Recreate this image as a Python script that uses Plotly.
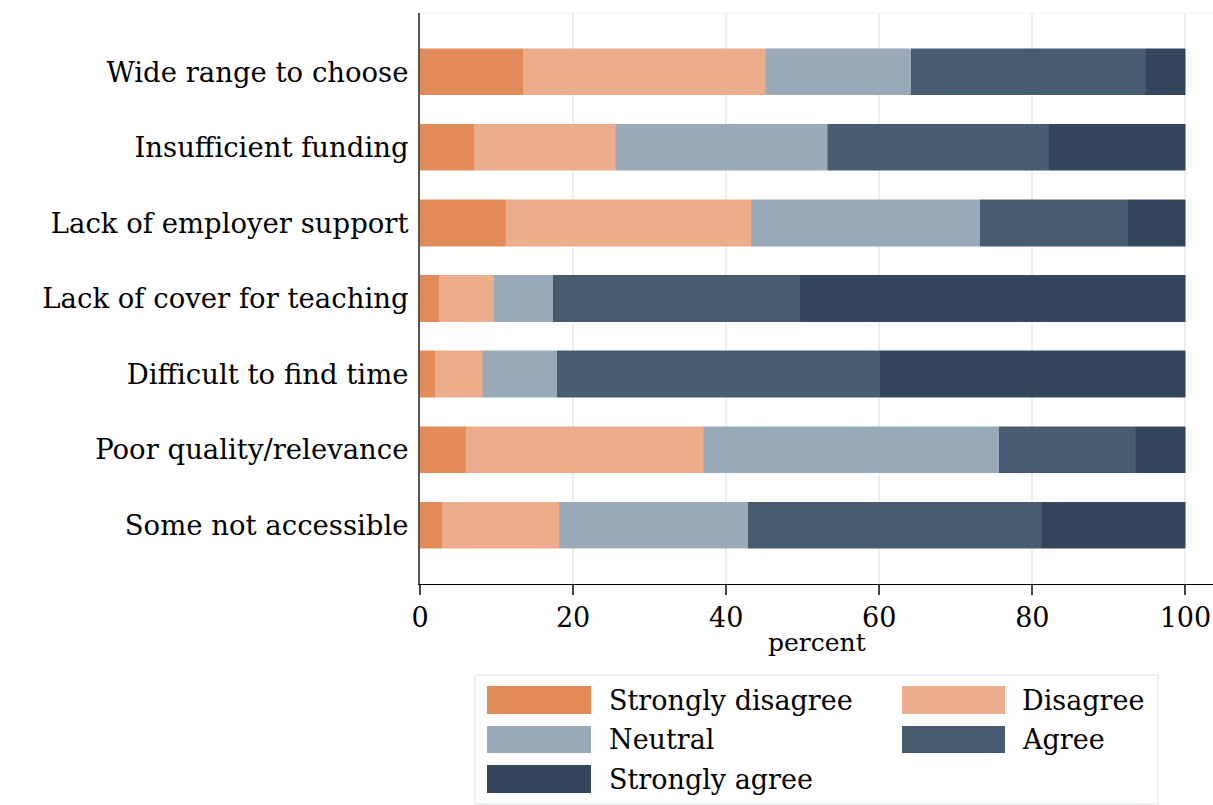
import plotly.graph_objects as go

categories = ["Wide range to choose", "Insufficient funding", "Lack of employer support",
              "Lack of cover for teaching", "Difficult to find time",
              "Poor quality/relevance", "Some not accessible"]
series_names = ["Strongly disagree", "Disagree", "Neutral", "Agree", "Strongly agree"]
strongly_disagree = [13.5, 7.1, 11.2, 2.5, 2.0, 6.0, 2.9]
disagree = [31.7, 18.5, 32.1, 7.2, 6.2, 31.1, 15.3]
neutral = [19.0, 27.7, 29.9, 7.7, 9.7, 38.6, 24.7]
agree = [30.6, 28.9, 19.3, 32.3, 42.2, 17.8, 38.4]
strongly_agree = [5.2, 17.8, 7.5, 50.3, 39.9, 6.5, 18.7]
x_ticks = [0, 20, 40, 60, 80, 100]
x_title = "percent"

colors = ["#E18B5B", "#ECAD8C", "#9AAAB8", "#485C70", "#34465E"]
values = [strongly_disagree, disagree, neutral, agree, strongly_agree]
FONT = "DejaVu Serif"
FS = 27

W, H = 1213, 805
L, R, T, B = 420, 0, 13, 221
PW, PH = W - L - R, H - T - B

fig = go.Figure()
for name, vals, col in zip(series_names, values, colors):
    fig.add_trace(go.Bar(
        y=categories, x=vals, name=name, orientation="h",
        marker=dict(color=col, line=dict(color=col, width=0.5)),
        width=0.61, showlegend=False,
    ))

def px_x(p):
    return (p - L) / PW

def px_y(p):
    return (H - B - p) / PH

shapes = []
annotations = []
# faint top border
shapes.append(dict(type="line", xref="paper", yref="paper", x0=0, x1=1, y0=1, y1=1,
                   line=dict(color="#F2F4F5", width=1)))
# legend box
shapes.append(dict(type="rect", xref="paper", yref="paper",
                   x0=px_x(475), x1=px_x(1158), y0=px_y(804), y1=px_y(675),
                   line=dict(color="#E6EDF0", width=1.5), fillcolor="white"))
col_sw = [(487, 591), (902, 1005)]
col_txt = [607, 1020]
rows = [(686, 714), (726, 753), (765, 793)]
for i, (name, col) in enumerate(zip(series_names, colors)):
    r, c = divmod(i, 2)
    sx0, sx1 = col_sw[c]
    sy0, sy1 = rows[r]
    shapes.append(dict(type="rect", xref="paper", yref="paper",
                       x0=px_x(sx0), x1=px_x(sx1), y0=px_y(sy1), y1=px_y(sy0),
                       line=dict(width=0), fillcolor=col))
    annotations.append(dict(text=name, xref="paper", yref="paper",
                            x=px_x(col_txt[c]), y=px_y((sy0 + sy1) / 2),
                            xanchor="left", yanchor="middle", showarrow=False,
                            font=dict(family=FONT, size=FS, color="black")))
# x-axis title
annotations.append(dict(text=x_title, xref="paper", yref="paper",
                        x=0.5, y=px_y(642), xanchor="center", yanchor="middle",
                        showarrow=False, font=dict(family=FONT, size=FS - 2, color="black")))

fig.update_layout(
    barmode="stack",
    width=W, height=H,
    margin=dict(l=L, r=R, t=T, b=B, pad=0),
    paper_bgcolor="white", plot_bgcolor="white",
    font=dict(family=FONT, size=FS, color="black"),
    shapes=shapes, annotations=annotations,
    showlegend=False,
)
fig.update_xaxes(
    range=[0, 103.6], tickvals=x_ticks, ticktext=[str(t) for t in x_ticks],
    showgrid=True, gridcolor="#E8F0F2", gridwidth=2, zeroline=False,
    showline=True, linecolor="black", linewidth=1,
    ticks="outside", ticklen=10, tickcolor="#444", tickwidth=1.5,
    tickfont=dict(family=FONT, size=FS),
)
fig.update_yaxes(
    categoryorder="array", categoryarray=categories,
    range=[len(categories) - 1 + 0.78, -0.78],
    showgrid=False, zeroline=False,
    showline=True, linecolor="#555", linewidth=2,
    ticks="", ticklabelstandoff=4,
    tickfont=dict(family=FONT, size=FS + 0.5),
)
fig.write_html("out.html", config={"displayModeBar": False},
               post_script="document.body.style.margin='0';document.body.style.padding='0';document.body.style.overflow='hidden';")
